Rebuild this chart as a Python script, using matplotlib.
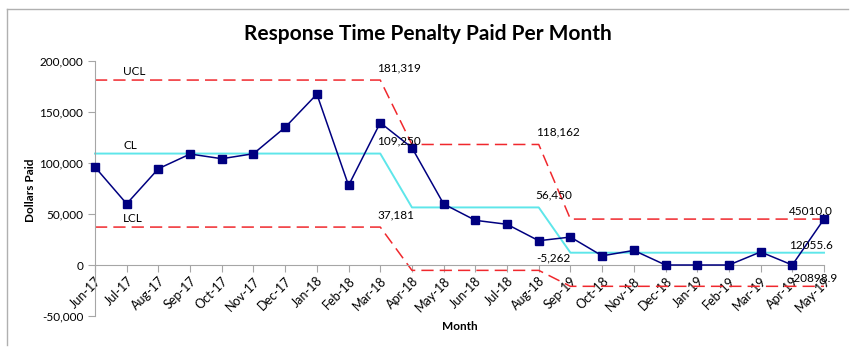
import matplotlib
matplotlib.use("Agg")
import matplotlib.pyplot as plt
from matplotlib.lines import Line2D

plt.rcParams['font.family'] = ['Lato', 'DejaVu Sans']

# meses (o "Sep-19" esta assim no original)
meses = ['Jun-17', 'Jul-17', 'Aug-17', 'Sep-17', 'Oct-17', 'Nov-17', 'Dec-17',
         'Jan-18', 'Feb-18', 'Mar-18', 'Apr-18', 'May-18', 'Jun-18', 'Jul-18',
         'Aug-18', 'Sep-19', 'Oct-18', 'Nov-18', 'Dec-18', 'Jan-19', 'Feb-19',
         'Mar-19', 'Apr-19', 'May-19']

pago = [96000, 60000, 94400, 108800, 104200, 109100, 135000, 167500, 78000,
        139500, 114950, 59800, 43800, 39900, 23800, 27400, 9000, 14300, 0, 0,
        0, 12790, 0, 45010]

ucl = [181319] * 10 + [118162] * 5 + [45010.0] * 9
cl = [109250] * 10 + [56450] * 5 + [12055.6] * 9
lcl = [37181] * 10 + [-5262] * 5 + [-20898.9] * 9

# rotulos dos limites: (indice, valor, texto, deslocamento em px)
rotulos = [
    (0, 181319, 'UCL', 28), (0, 109250, 'CL', 28), (0, 37181, 'LCL', 28),
    (9, 181319, '181,319', -3), (9, 109250, '109,250', -3), (9, 37181, '37,181', -3),
    (14, 118162, '118,162', -3), (14, 56450, '56,450', -3), (14, -5262, '-5,262', -2),
    (23, 45010.0, '45010.0', -35), (23, 12055.6, '12055.6', -35), (23, -20898.9, '-20898.9', -35),
]

fig = plt.figure(figsize=(8.6, 3.57), dpi=100)
ax = fig.add_axes([95 / 860, 1 - 316 / 357, (824 - 95) / 860, (316 - 61) / 357])

x = list(range(len(meses)))
vermelho = '#F0282D'
ax.plot(x, ucl, color=vermelho, lw=1.1, dashes=(8, 4), clip_on=False, zorder=2)
ax.plot(x, lcl, color=vermelho, lw=1.1, dashes=(8, 4), clip_on=False, zorder=2)
ax.plot(x, cl, color='#5EE6EA', lw=1.4, clip_on=False, zorder=2)
ax.plot(x, pago, color='#000080', lw=1.1, marker='s', markersize=6,
        clip_on=False, zorder=4)

for i, v, txt, dx in rotulos:
    dy = 3 if txt in ('UCL', 'CL', 'LCL') else (7 if i < 23 else 2)
    ax.annotate(txt, xy=(i, v), xytext=(dx, dy), textcoords='offset pixels',
                ha='left', va='bottom', fontsize=8.5, color='black', zorder=5)

for lado in ['top', 'right']:
    ax.spines[lado].set_visible(False)
ax.spines['bottom'].set_position(('data', 0))
ax.spines['bottom'].set_color('#A6A6A6')
ax.spines['left'].set_color('#A6A6A6')
ax.tick_params(axis='both', colors='#A6A6A6', labelcolor='black', labelsize=8.5,
               length=5, width=0.8, direction='out')
ax.tick_params(axis='x', pad=2, labelsize=9)

ax.set_xlim(0, 23)
ax.set_ylim(-50000, 200000)
ax.set_yticks([-50000, 0, 50000, 100000, 150000, 200000])
ax.set_yticklabels(['-50,000', '0', '50,000', '100,000', '150,000', '200,000'])
ax.set_xticks(x)
ax.set_xticklabels(meses)
for rot in ax.get_xticklabels():
    rot.set_rotation(45)
    rot.set_ha('right')
    rot.set_rotation_mode('anchor')

fig.text(460 / 860, 1 - 326 / 357, 'Month', ha='center', va='center',
         fontsize=8.5, fontweight='bold')
fig.text(30 / 860, 1 - 190 / 357, 'Dollars Paid', ha='center', va='center',
         rotation=90, fontsize=8.5, fontweight='bold')
fig.text(428 / 860, 1 - 34 / 357, 'Response Time Penalty Paid Per Month',
         ha='center', va='center', fontsize=15, fontweight='bold')

# borda do grafico (so topo e esquerda aparecem)
fig.add_artist(Line2D([7 / 860, 848 / 860], [1 - 9 / 357, 1 - 9 / 357],
                      transform=fig.transFigure, color='#B0B0B0', lw=1))
fig.add_artist(Line2D([7 / 860, 7 / 860], [1 - 9 / 357, 1 - 345 / 357],
                      transform=fig.transFigure, color='#B0B0B0', lw=1))

fig.savefig('out.png', dpi=100)
